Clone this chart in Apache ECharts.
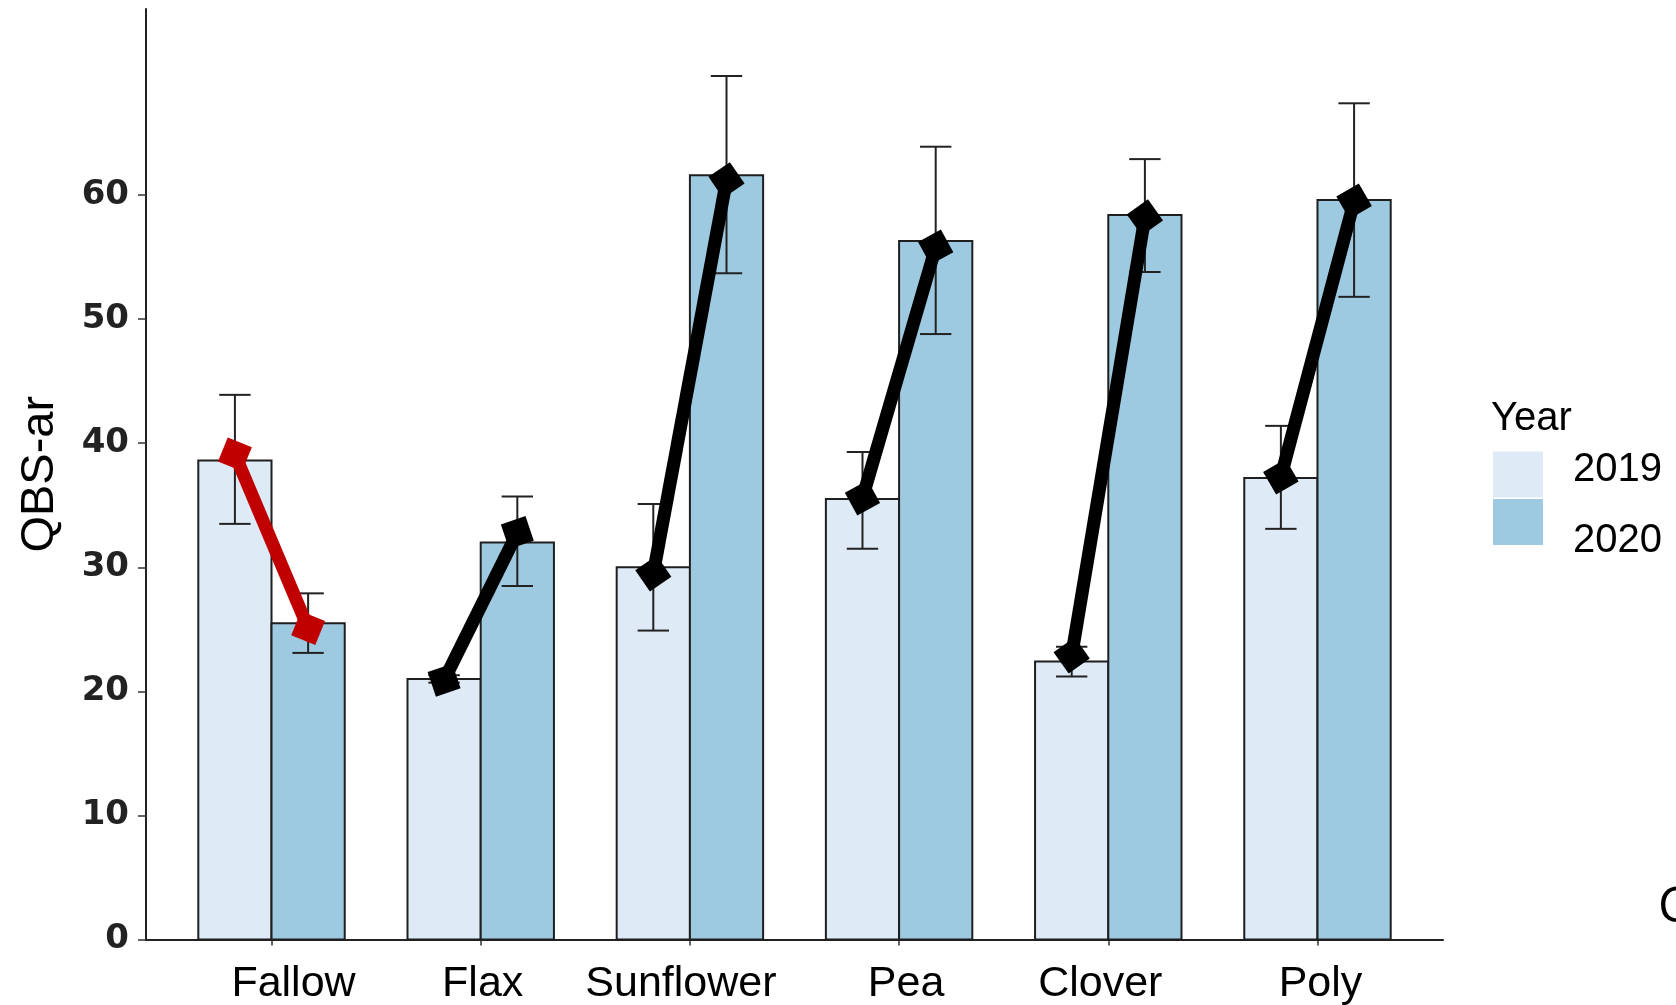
<!DOCTYPE html>
<html><head><meta charset="utf-8">
<script src="https://cdn.jsdelivr.net/npm/echarts@6/dist/echarts.min.js"></script>
<style>html,body{margin:0;padding:0;background:#fff}#c{width:1676px;height:1005px}</style>
</head><body><div id="c"></div>
<script>
// ---- data ----
const categories = ['Fallow', 'Flax', 'Sunflower', 'Pea', 'Clover', 'Poly'];
const years = ['2019', '2020'];
const mean2019  = [38.6, 21.0, 30.0, 35.5, 22.4, 37.2];
const lower2019 = [33.5, 20.7, 24.9, 31.5, 21.2, 33.1];
const upper2019 = [43.9, 21.3, 35.1, 39.3, 23.6, 41.4];
const mean2020  = [25.5, 32.0, 61.6, 56.3, 58.4, 59.6];
const lower2020 = [23.1, 28.5, 53.7, 48.8, 53.8, 51.8];
const upper2020 = [27.9, 35.7, 69.6, 63.9, 62.9, 67.4];
const trend2019 = [39.1, 20.9, 29.5, 35.6, 22.9, 37.3];
const trend2020 = [25.1, 32.8, 61.2, 55.8, 58.2, 59.5];
const yTicks = [0, 10, 20, 30, 40, 50, 60];

// ---- style / layout ----
const barColors = ['#DEEBF7', '#9ECAE1'];
const barUnit = 0.35;          // bar width in category units
const capUnit = 0.15;          // error-bar cap width in category units
const dodge = [-barUnit / 2, barUnit / 2];
const labelShift = [22, 2, -9, 7, -8, 3];   // px horizontal offsets of category labels
const ink = '#222';

const catIdx = categories.map((c, i) => i);

function barRender(k) {
  return function (params, api) {
    const x = api.value(0), v = api.value(1);
    const p0 = api.coord([x + dodge[k] - barUnit / 2, v]);
    const p1 = api.coord([x + dodge[k] + barUnit / 2, 0]);
    return {
      type: 'rect',
      shape: { x: p0[0], y: p0[1], width: p1[0] - p0[0], height: p1[1] - p0[1] },
      style: { fill: api.visual('color'), stroke: '#1f1f1f', lineWidth: 2 }
    };
  };
}
function errRender(k) {
  return function (params, api) {
    const x = api.value(0) + dodge[k];
    const lo = api.coord([x, api.value(1)]);
    const hi = api.coord([x, api.value(2)]);
    const l = api.coord([x - capUnit / 2, 0])[0];
    const r = api.coord([x + capUnit / 2, 0])[0];
    const st = { stroke: ink, lineWidth: 2 };
    return {
      type: 'group',
      children: [
        { type: 'line', shape: { x1: lo[0], y1: lo[1], x2: hi[0], y2: hi[1] }, style: st },
        { type: 'line', shape: { x1: l, y1: lo[1], x2: r, y2: lo[1] }, style: st },
        { type: 'line', shape: { x1: l, y1: hi[1], x2: r, y2: hi[1] }, style: st }
      ]
    };
  };
}

const series = [];
[mean2019, mean2020].forEach((vals, k) => {
  series.push({
    name: years[k], type: 'custom', z: 2,
    itemStyle: { color: barColors[k] },
    encode: { x: 0, y: 1 },
    data: catIdx.map(i => [i, vals[i]]),
    renderItem: barRender(k)
  });
});
[[lower2019, upper2019], [lower2020, upper2020]].forEach((pair, k) => {
  series.push({
    name: 'err' + years[k], type: 'custom', z: 3,
    encode: { x: 0, y: [1, 2] },
    data: catIdx.map(i => [i, pair[0][i], pair[1][i]]),
    renderItem: errRender(k)
  });
});
const lineSeriesStart = series.length;
catIdx.forEach(i => {
  const col = trend2020[i] < trend2019[i] ? '#C00000' : '#000000';
  series.push({
    name: 'trend-' + categories[i], type: 'line', z: 5,
    symbol: 'rect', symbolSize: 26, symbolRotate: 0,
    lineStyle: { color: col, width: 13 },
    itemStyle: { color: col },
    data: [[i + dodge[0], trend2019[i]], [i + dodge[1], trend2020[i]]]
  });
});

const rich = {};
catIdx.forEach(i => {
  const s = labelShift[i];
  rich['s' + i] = {
    fontSize: 43, fontFamily: 'Liberation Sans', color: '#000',
    padding: s >= 0 ? [0, 0, 0, 2 * s] : [0, -2 * s, 0, 0]
  };
});

const legendBase = {
  orient: 'vertical', left: 1493, padding: 0, itemWidth: 50, itemHeight: 46,
  icon: 'rect', selectedMode: false, itemStyle: { borderWidth: 0 },
  formatter: '{t|{name}}'
};

const option = {
  animation: false,
  backgroundColor: '#fff',
  grid: { left: 146, right: 233, top: 9, bottom: 65.5, containLabel: false, outerBoundsMode: 'none' },
  title: {
    text: 'Year', left: 1491, top: 399, padding: 0,
    textStyle: { fontSize: 40, fontWeight: 'normal', fontFamily: 'Liberation Sans', color: '#000' }
  },
  legend: [
    Object.assign({}, legendBase, {
      data: ['2019'], top: 450,
      textStyle: { rich: { t: { fontSize: 40, fontFamily: 'Liberation Sans', color: '#000', padding: [0, 0, 9, 25] } } }
    }),
    Object.assign({}, legendBase, {
      data: ['2020'], top: 499,
      textStyle: { rich: { t: { fontSize: 40, fontFamily: 'Liberation Sans', color: '#000', padding: [37, 0, 0, 25] } } }
    })
  ],
  xAxis: {
    type: 'value', min: -0.6, max: 5.6,
    splitLine: { show: false },
    axisLine: { show: true, onZero: false, lineStyle: { color: ink, width: 2 } },
    axisTick: { show: true, customValues: catIdx, length: 6, lineStyle: { color: '#333', width: 1.5 } },
    axisLabel: {
      customValues: catIdx, margin: 23,
      formatter: v => '{s' + v + '|' + categories[v] + '}',
      rich: rich
    }
  },
  yAxis: {
    type: 'value', min: 0, max: 75,
    name: 'QBS-ar', nameLocation: 'middle', nameGap: 82,
    nameTextStyle: { fontSize: 47, fontFamily: 'Liberation Sans', color: '#000' },
    splitLine: { show: false },
    axisLine: { show: true, onZero: false, lineStyle: { color: ink, width: 2 } },
    axisTick: { show: true, customValues: yTicks, length: 8, lineStyle: { color: '#333', width: 1.5 } },
    axisLabel: {
      customValues: yTicks, margin: 17,
      fontSize: 34, fontWeight: 'bold', fontFamily: 'DejaVu Sans', color: '#222'
    }
  },
  graphic: [
    { type: 'text', left: 1658, top: 884, style: { text: 'C', fontSize: 49, fontFamily: 'Open Sans', fill: '#000' } }
  ],
  series: series
};

const chart = echarts.init(document.getElementById('c'), null, { renderer: 'canvas' });
chart.setOption(option);

// orient the square markers as diamonds along each connecting line
const upd = [];
catIdx.forEach(i => {
  const a = chart.convertToPixel({ gridIndex: 0 }, [i + dodge[0], trend2019[i]]);
  const b = chart.convertToPixel({ gridIndex: 0 }, [i + dodge[1], trend2020[i]]);
  const theta = Math.atan2(b[1] - a[1], b[0] - a[0]) * 180 / Math.PI; // clockwise on screen
  upd.push({ symbolRotate: -(theta + 45) });
});
const allUpd = series.map((s, j) => j >= lineSeriesStart ? upd[j - lineSeriesStart] : {});
chart.setOption({ series: allUpd });
</script>
</body></html>
